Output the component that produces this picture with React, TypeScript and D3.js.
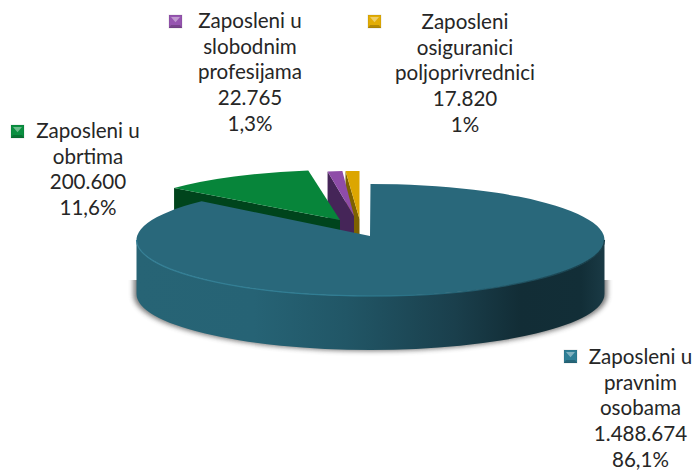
import React from 'react';
import * as d3 from 'd3';

const categories = [
  ['Zaposleni u', 'pravnim', 'osobama'],
  ['Zaposleni u', 'obrtima'],
  ['Zaposleni u', 'slobodnim', 'profesijama'],
  ['Zaposleni', 'osiguranici', 'poljoprivrednici'],
];
const values = [1488674, 200600, 22765, 17820];
const percentLabels = ['86,1%', '11,6%', '1,3%', '1%'];

const faceColors = ['#29687b', '#07853a', '#8e4ca8', '#dca600'];
const wallColors = ['#1f5061', '#00441c', '#452558', '#7d6200'];
const keyColors = ['#2f7f96', '#0a8f40', '#9655b0', '#e3ad05'];

const width = 694;
const height = 470;
const depth = 54;

// where each slice sits once exploded
const sliceLayout = [
  { ax: 370, ay: 236, cx: 370.5, cy: 240, rx: 234, ry: 56, endNudge: 4 },
  { ax: 340, ay: 220, cx: 340, cy: 220, rx: 216, ry: 50, endNudge: 0 },
  { ax: 354, ay: 216, cx: 354, cy: 216, rx: 180, ry: 45, endNudge: 0 },
  { ax: 359.5, ay: 219, cx: 359.5, cy: 219, rx: 216, ry: 48, endNudge: 0 },
];

const labelLayout = [
  { x: 640.5, y: 364, keyX: 564, keyY: 350 },
  { x: 88, y: 138, keyX: 11, keyY: 125 },
  { x: 250, y: 28, keyX: 169, keyY: 15 },
  { x: 465, y: 29, keyX: 368, keyY: 15 },
];
const lineHeight = 25.7;

const numberFormat = d3.formatLocale({
  decimal: ',',
  thousands: '.',
  grouping: [3],
  currency: ['', ''],
}).format(',d');

const pie = d3.pie<number>().sort(null).value(d => d);

type Layout = (typeof sliceLayout)[number];

const rim = (l: Layout, a: number, dy = 0): [number, number] => [
  l.cx + Math.sin(a) * l.rx,
  l.cy - Math.cos(a) * l.ry + dy,
];

const topFace = (l: Layout, a0: number, a1: number) => {
  const [x0, y0] = rim(l, a0);
  const [x1, y1] = rim(l, a1);
  const large = a1 - a0 > Math.PI ? 1 : 0;
  return `M${l.ax},${l.ay}L${x0},${y0}A${l.rx},${l.ry} 0 ${large} 1 ${x1},${y1}Z`;
};

const cutWall = (l: Layout, a: number) => {
  const [x, y] = rim(l, a);
  return `M${x},${y}L${l.ax},${l.ay}L${l.ax},${l.ay + depth}L${x},${y + depth}Z`;
};

// front side of the big slice, left extreme to right extreme
const frontWall = (l: Layout) => {
  const [x0, y0] = rim(l, (3 * Math.PI) / 2);
  const [x1, y1] = rim(l, Math.PI / 2);
  return `M${x0},${y0}A${l.rx},${l.ry} 0 0 0 ${x1},${y1}L${x1},${y1 + depth}A${l.rx},${l.ry} 0 0 1 ${x0},${y0 + depth}Z`;
};

const frontEdge = (l: Layout) => {
  const [x0, y0] = rim(l, (3 * Math.PI) / 2);
  const [x1, y1] = rim(l, Math.PI / 2);
  return `M${x0},${y0}A${l.rx},${l.ry} 0 0 0 ${x1},${y1}`;
};

const LegendKey = ({ x, y, color }: { x: number; y: number; color: string }) => {
  const s = 13;
  return (
    <g transform={`translate(${x},${y})`}>
      <rect width={s} height={s} fill={color} />
      <path d={`M2,2H${s - 2}L${s / 2},${s * 0.55}Z`} fill="#fff" opacity={0.4} />
      <path d={`M0,${s}H${s}L${s - 2},${s - 3}H2Z`} fill="#000" opacity={0.2} />
      <rect width={s} height={s} fill="none" stroke="#000" strokeOpacity={0.1} />
    </g>
  );
};

const App = () => {
  const arcs = pie(values);
  const main = sliceLayout[0];
  const yellow = sliceLayout[3];

  return (
    <svg
      width={width}
      height={height}
      style={{ position: 'absolute', left: 0, top: 0, display: 'block' }}
      fontFamily="Lato, 'Open Sans', sans-serif"
    >
      <defs>
        <linearGradient id="wallShade" x1="0" x2="1" y1="0" y2="0">
          <stop offset="0" stopColor="#276475" />
          <stop offset="0.25" stopColor="#266375" />
          <stop offset="0.45" stopColor="#215666" />
          <stop offset="0.68" stopColor="#1a3f4c" />
          <stop offset="0.82" stopColor="#122d36" />
          <stop offset="0.95" stopColor="#122e37" />
          <stop offset="1" stopColor="#1a3a45" />
        </linearGradient>
        <linearGradient id="edgeShade" x1="0" x2="1" y1="0" y2="0">
          <stop offset="0" stopColor="#357f95" />
          <stop offset="0.5" stopColor="#2f7d93" />
          <stop offset="0.8" stopColor="#1f5363" />
          <stop offset="1" stopColor="#163a45" />
        </linearGradient>
        <filter id="soft" x="-10%" y="-30%" width="120%" height="160%">
          <feGaussianBlur stdDeviation="2.5" />
        </filter>
        <clipPath id="shadowClip">
          <rect x={0} y={main.cy + depth - 14} width={width} height={height} />
        </clipPath>
      </defs>

      <g clipPath="url(#shadowClip)">
        <path
          d={frontWall({ ...main, rx: main.rx + 3 })}
          transform="translate(0,1)"
          fill="#444"
          opacity={0.7}
          filter="url(#soft)"
        />
      </g>

      {/* exploded slices, back to front */}
      <path
        d={cutWall({ ...yellow, cx: yellow.cx + 3, ax: yellow.ax + 3 }, arcs[3].endAngle)}
        transform="translate(0,-2)"
        fill="#bbb"
        opacity={0.7}
      />
      {[3, 2, 1].map(i => {
        const l = sliceLayout[i];
        const a = arcs[i];
        return (
          <g key={i}>
            <path d={cutWall(l, a.startAngle)} fill={wallColors[i]} />
            <path d={topFace(l, a.startAngle, a.endAngle)} fill={faceColors[i]} />
          </g>
        );
      })}

      <path d={frontWall(main)} fill="url(#wallShade)" />
      <path
        d={topFace(main, arcs[0].startAngle, arcs[0].endAngle + (main.endNudge * Math.PI) / 180)}
        fill={faceColors[0]}
      />
      <path d={frontEdge(main)} fill="none" stroke="url(#edgeShade)" strokeWidth={1.2} />

      {categories.map((lines, i) => {
        const l = labelLayout[i];
        const rows = [...lines, numberFormat(values[i]), percentLabels[i]];
        return (
          <g key={i}>
            <LegendKey x={l.keyX} y={l.keyY} color={keyColors[i]} />
            <text textAnchor="middle" fontSize={20.6} fill="#262626">
              {rows.map((row, j) => (
                <tspan key={j} x={l.x} y={l.y + j * lineHeight}>
                  {row}
                </tspan>
              ))}
            </text>
          </g>
        );
      })}
    </svg>
  );
};

export default App;
